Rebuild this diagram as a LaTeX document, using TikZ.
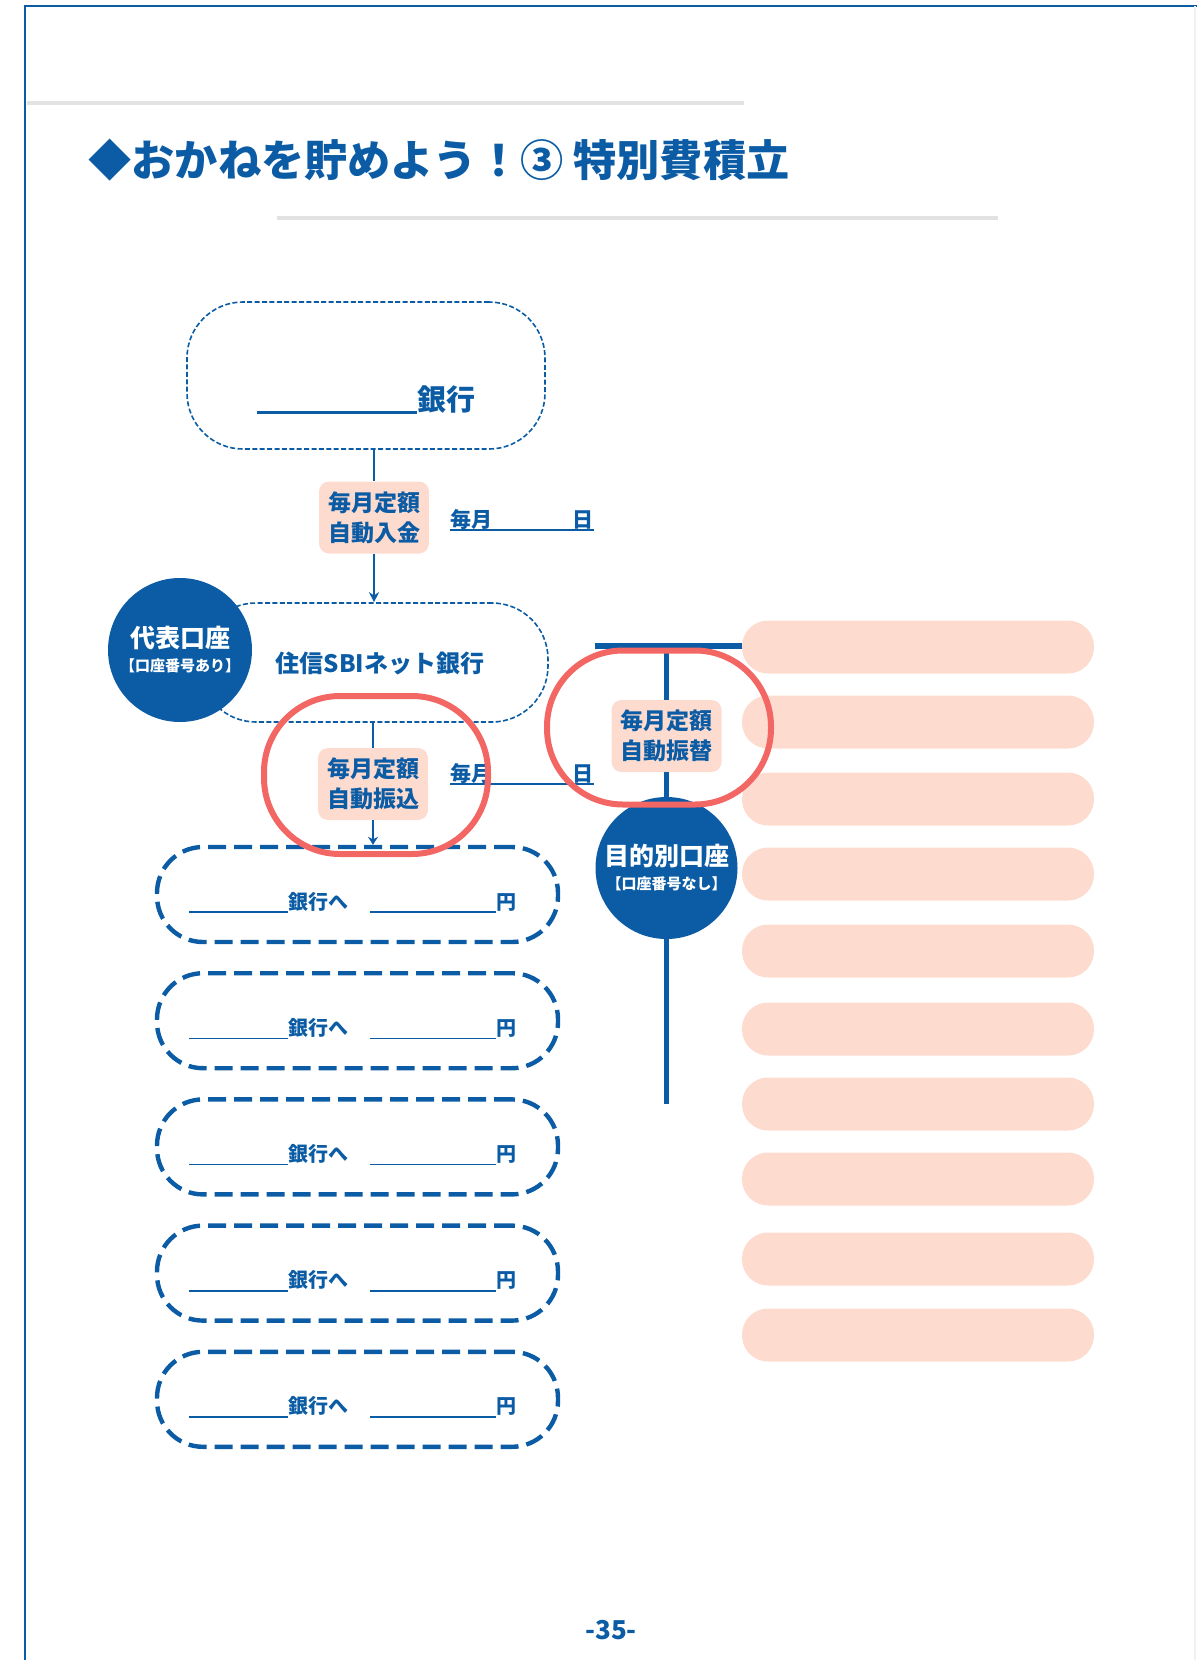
\documentclass[tikz,border=0pt]{standalone}
\usepackage{fontspec}
\setmainfont{Noto Sans CJK JP}
\usetikzlibrary{arrows.meta, positioning}
\definecolor{PageBlue}{HTML}{0B5CA4}
\definecolor{PeachFill}{HTML}{FDDCCF}
\definecolor{MarkRed}{HTML}{F26664}
\definecolor{RuleGray}{HTML}{E2E2E2}

\newcommand{\fillin}[2][0.8pt]{\rule[-2pt]{#2}{#1}}

\begin{document}
\begin{tikzpicture}[
        x=0.5pt, y=-0.5pt,
        % 口座の枠
        bankbox/.style={
                rectangle,
                rounded corners=28pt,
                draw=PageBlue,
                line width=0.8pt,
                dash pattern=on 2.5pt off 1.2pt
            },
        % 振込先の枠
        sendbox/.style={
                rectangle,
                rounded corners=23pt,
                draw=PageBlue,
                line width=2.2pt,
                dash pattern=on 9pt off 4pt,
                minimum width=200.5pt,
                minimum height=47.5pt
            },
        sendtxt/.style={
                text=PageBlue,
                font=\bfseries\fontsize{10}{12}\selectfont,
                inner sep=0pt
            },
        % 毎月定額のラベル
        tagbox/.style={
                rectangle,
                rounded corners=5pt,
                fill=PeachFill,
                text=PageBlue,
                font=\bfseries\fontsize{11.5}{15}\selectfont,
                align=center,
                minimum width=55pt,
                minimum height=36pt,
                inner sep=2pt
            },
        daytxt/.style={
                text=PageBlue,
                font=\bfseries\fontsize{10.5}{12}\selectfont,
                inner sep=0pt
            },
        % 丸い口座
        acct/.style={
                circle,
                fill=PageBlue,
                text=white,
                align=center,
                inner sep=0pt
            },
        pill/.style={
                rectangle,
                rounded corners=13pt,
                fill=PeachFill,
                minimum width=176pt,
                minimum height=26.5pt
            },
        % 線
        flow/.style={
                draw=PageBlue,
                line width=1.1pt
            },
        trunk/.style={
                draw=PageBlue,
                line width=2.5pt
            },
        % 赤い囲み
        hilite/.style={
                rectangle,
                rounded corners=38pt,
                draw=MarkRed,
                line width=3pt,
                minimum width=112pt
            }
    ]
    \useasboundingbox (0,0) rectangle (1197,1660);

    % 枠とタイトル
    \draw[PageBlue, line width=1.2pt] (25,1660) -- (25,6) -- (1197,6);
    \draw[gray!12, line width=0.6pt] (1195,6) -- (1195,1660);
    \draw[RuleGray, line width=2pt] (27,103) -- (744,103);
    \draw[RuleGray, line width=2pt] (277,218) -- (998,218);
    \node[anchor=west, text=PageBlue, font=\bfseries\fontsize{21.6}{24}\selectfont, inner sep=0pt] (title) at (88,160) {◆おかねを貯めよう！③ 特別費積立};

    % 入金元の銀行
    \node[bankbox, minimum width=179pt, minimum height=73.5pt] (srcbank) at (366,375.5) {};
    \node[text=PageBlue, font=\bfseries\fontsize{14.5}{16}\selectfont, inner sep=0pt] (srcname) at (366,400) {\fillin[1.5pt]{80pt}銀行};

    \node[tagbox] (deposit) at (374,517.5) {毎月定額\\自動入金};
    \node[daytxt, anchor=base] (day1) at (522,527) {毎月\hspace{40pt}日};
    \draw[PageBlue, line width=0.8pt] ([yshift=-1.5pt]day1.base west) -- ([yshift=-1.5pt]day1.base east);

    % 代表口座
    \node[bankbox, minimum width=174pt, minimum height=59.5pt] (repbank) at (374,662.5) {};
    \node[text=PageBlue, font=\bfseries\fontsize{12}{14}\selectfont, inner sep=0pt] (repname) at (380,663) {住信SBIネット銀行};
    \node[acct, minimum size=72pt] (rep) at (180,650) {{\fontsize{12.5}{15.5}\selectfont\bfseries 代表口座}\\{\fontsize{7.5}{9}\selectfont\bfseries 【口座番号あり】}};

    \draw[flow] (deposit.north) -- (deposit.north |- srcbank.south);
    \draw[flow, -{Stealth[length=5pt, width=5pt]}] (deposit.south) -- (deposit.south |- repbank.north);

    \node[tagbox] (transfer) at (373,784) {毎月定額\\自動振込};
    \node[daytxt, anchor=base] (day2) at (522,781) {毎月\hspace{40pt}日};
    \draw[PageBlue, line width=0.8pt] ([yshift=-1.5pt]day2.base west) -- ([yshift=-1.5pt]day2.base east);

    % 振込先
    \foreach \i/\y in {1/894.5, 2/1020.7, 3/1146.9, 4/1273.1, 5/1399.3} {
        \node[sendbox] (send\i) at (357.5,\y) {};
        \node[sendtxt] (sendtxt\i) at ([xshift=-2.5pt, yshift=-4pt]send\i.center) {\fillin{49.5pt}銀行へ\hspace{11pt}\fillin{63pt}円};
    }

    \draw[flow] (transfer.north) -- (transfer.north |- repbank.south);
    \draw[flow, -{Stealth[length=4pt, width=5pt]}] (transfer.south) -- (transfer.south |- send1.north);

    % 目的別口座
    \foreach \i/\y in {1/647, 2/722, 3/799, 4/874, 5/951, 6/1029, 7/1104, 8/1179, 9/1259, 10/1335} {
        \node[pill] (pill\i) at (918,\y) {};
    }
    \coordinate (barL) at (595,646);
    \draw[PageBlue, line width=3pt] (barL) -- (barL -| pill1.west);

    \node[tagbox] (swap) at (666.5,736) {毎月定額\\自動振替};
    \node[acct, minimum size=71pt] (purpose) at (666.5,868) {{\fontsize{12.5}{15.5}\selectfont\bfseries 目的別口座}\\{\fontsize{7.5}{9}\selectfont\bfseries 【口座番号なし】}};
    \coordinate (trunkEnd) at (666.5,1104);

    \draw[trunk] (swap.north |- barL) -- (swap.north);
    \draw[trunk] (swap.south) -- (purpose.north);
    \draw[trunk] (purpose.south) -- (trunkEnd);

    % 赤い囲み
    \node[hilite, minimum height=79pt] (ring1) at (376,775) {};
    \node[hilite, minimum height=77pt] (ring2) at (659,727.5) {};

    % ページ番号
    \node[text=PageBlue, font=\bfseries\fontsize{13}{15}\selectfont] (pageno) at (611,1630) {-35-};

\end{tikzpicture}
\end{document}
